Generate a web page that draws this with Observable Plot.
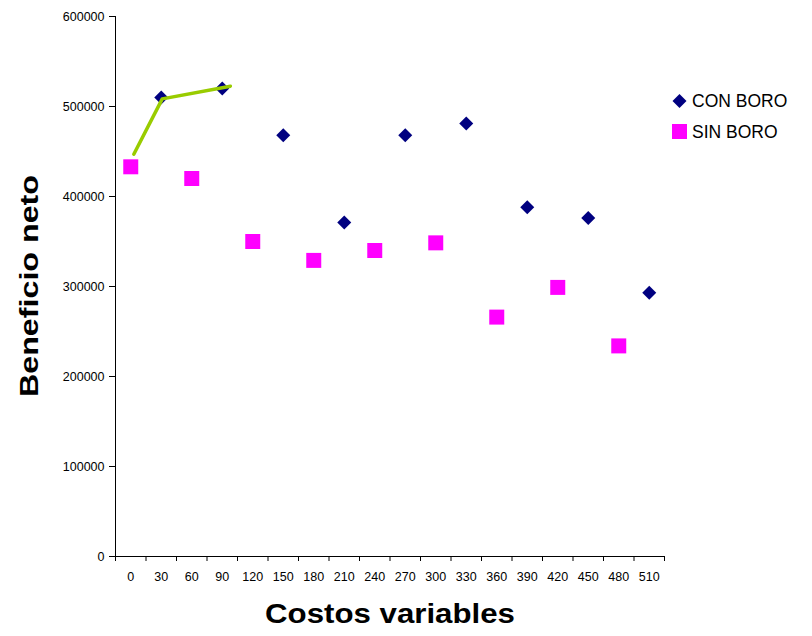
<!DOCTYPE html>
<html><head><meta charset="utf-8">
<script src="https://cdn.jsdelivr.net/npm/d3@7"></script>
<script src="https://cdn.jsdelivr.net/npm/@observablehq/plot@0.6"></script>
<style>
body{margin:0;background:#fff;}
#chart{position:relative;width:812px;height:636px;}
</style></head><body><div id="chart"></div>
<script>
// x categories (Costos variables)
const costos = [0,30,60,90,120,150,180,210,240,270,300,330,360,390,420,450,480,510];
// CON BORO series
const conBoroX = [30,90,150,210,270,330,390,450,510];
const conBoroY = [510000,520000,468000,371000,468000,481000,388000,376000,293000];
// SIN BORO series
const sinBoroX = [0,60,120,180,240,300,360,420,480];
const sinBoroY = [433000,420000,350000,329000,340000,348500,266000,299000,234000];
// hand-drawn green line
const lineaX = [3,31,98];
const lineaY = [447000,508500,522600];
// y tick labels
const yTicks = [0,100000,200000,300000,400000,500000,600000];
const seriesNames = ["CON BORO","SIN BORO"];
const seriesColors = ["#000080","#FF00FF"];
const lineColor = "#99CC00";

const con = conBoroX.map((x,i)=>({x, y: conBoroY[i]}));
const sin = sinBoroX.map((x,i)=>({x, y: sinBoroY[i]}));
const linea = lineaX.map((x,i)=>({x, y: lineaY[i]}));
const step = costos[1]-costos[0];
const bounds = costos.map(c=>c-step/2).concat([costos[costos.length-1]+step/2]);

const font = "'Liberation Sans', Arial, sans-serif";
const plot = Plot.plot({
  width:812, height:636, marginLeft:115, marginRight:148, marginTop:16, marginBottom:80,
  style:{fontFamily:font, fontSize:"12.5px", color:"#000", background:"#fff"},
  x:{type:"linear", domain:[bounds[0], bounds[bounds.length-1]]},
  y:{domain:[0,600000]},
  marks:[
    Plot.axisY({ticks:yTicks, tickSize:6, tickPadding:5, tickFormat:d=>String(d), label:null}),
    Plot.axisX({ticks:bounds, tickSize:5, tickFormat:()=>"", label:null}),
    Plot.axisX({ticks:costos, tickSize:0, tickPadding:16, tickFormat:d=>String(d), label:null}),
    Plot.ruleX([bounds[0]], {stroke:"#000"}),
    Plot.ruleY([0], {stroke:"#000"}),
    Plot.dot(sin, {x:"x", y:"y", symbol:"square", r:8.46, fill:seriesColors[1], stroke:"none"}),
    Plot.dot(con, {x:"x", y:"y", symbol:"diamond2", r:6.3, fill:seriesColors[0], stroke:"none"}),
    Plot.line(linea, {x:"x", y:"y", stroke:lineColor, strokeWidth:3.5})
  ]
});
document.getElementById("chart").appendChild(plot);

const svg = d3.select(plot);
svg.append("text")
  .attr("x", 390).attr("y", 623)
  .attr("text-anchor","middle")
  .attr("font-family", font).attr("font-weight","bold").attr("font-size", 28)
  .attr("textLength", 250).attr("lengthAdjust","spacingAndGlyphs")
  .attr("fill","#000")
  .text("Costos variables");
svg.append("text")
  .attr("transform","translate(38,286) rotate(-90)")
  .attr("text-anchor","middle")
  .attr("font-family", font).attr("font-weight","bold").attr("font-size", 26)
  .attr("textLength", 222).attr("lengthAdjust","spacingAndGlyphs")
  .attr("fill","#000")
  .text("Beneficio neto");

// legend
const leg = svg.append("g");
const legSymbols = [d3.symbolDiamond2, d3.symbolSquare];
const legSizes = [125, 225];
const legY = [101, 131.5];
const legBase = [107, 138];
seriesNames.forEach((name,i)=>{
  leg.append("path")
    .attr("transform", `translate(679.5,${legY[i]})`)
    .attr("d", d3.symbol(legSymbols[i], legSizes[i])())
    .attr("fill", seriesColors[i]);
  leg.append("text")
    .attr("x", 692).attr("y", legBase[i])
    .attr("text-anchor","start")
    .attr("font-family", font).attr("font-size", 17.5)
    .attr("fill","#000")
    .text(name);
});
</script></body></html>
